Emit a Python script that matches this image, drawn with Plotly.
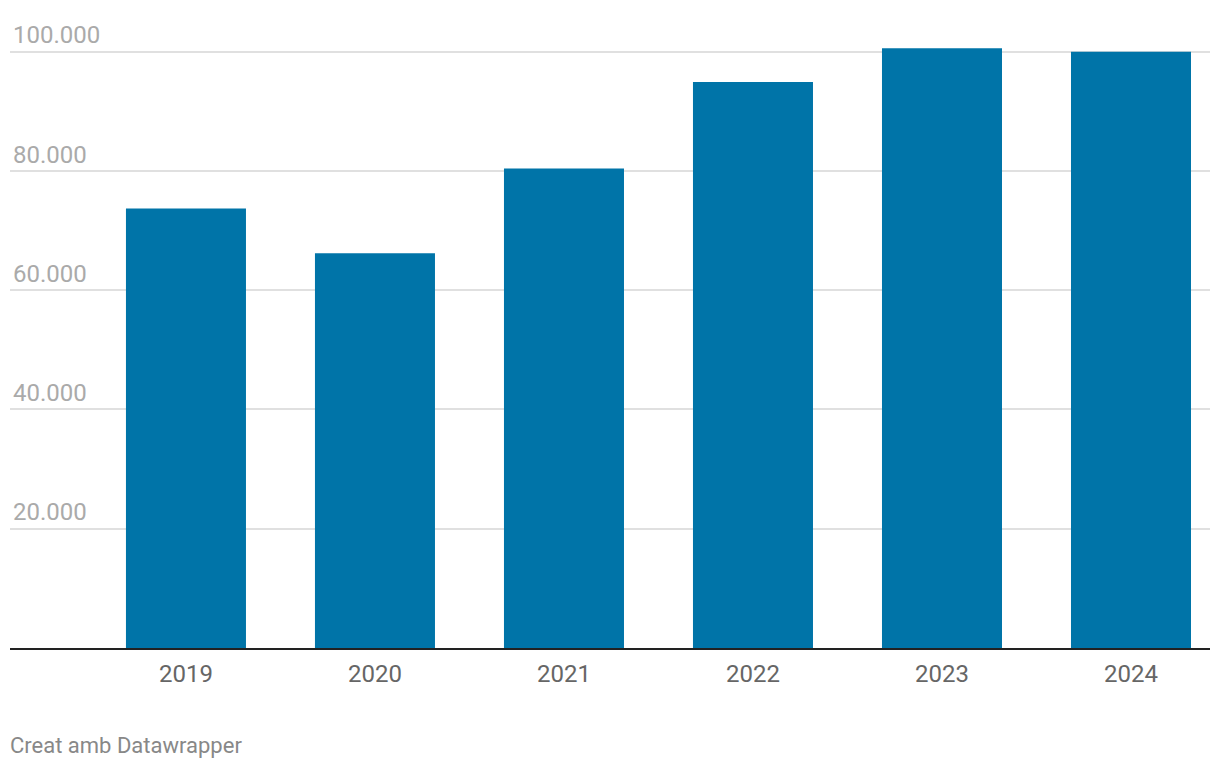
import plotly.graph_objects as go

years = ["2019", "2020", "2021", "2022", "2023", "2024"]
values = [73700, 66200, 80400, 94900, 100600, 100000]
y_ticks = [0, 20000, 40000, 60000, 80000, 100000]
y_tick_labels = ["", "20.000", "40.000", "60.000", "80.000", "100.000"]
footer = "Creat amb Datawrapper"

fig = go.Figure(go.Bar(x=years, y=values, marker_color="#0074a8", marker_line_width=0))

fig.update_layout(
    width=1220, height=770,
    margin=dict(l=10, r=10, t=4, b=122),
    paper_bgcolor="white", plot_bgcolor="white",
    bargap=0.365,
    font=dict(family="Roboto", size=22),
    showlegend=False,
)
fig.update_xaxes(
    type="category", range=[-0.931, 5.418],
    showgrid=False, showline=True, linecolor="#222", linewidth=2,
    ticks="", tickfont=dict(size=24, color="#666"), ticklabelstandoff=3,
)
fig.update_yaxes(
    range=[0, 108000], tickvals=y_ticks, ticktext=y_tick_labels,
    showgrid=True, gridcolor="#e0e0e0", gridwidth=1.5, zeroline=False,
    ticklabelposition="inside top", tickfont=dict(size=24, color="#aaa"),
    showline=False, ticks="",
)
fig.add_annotation(
    text=footer, xref="paper", yref="paper", x=0, y=-0.152, xshift=-2,
    xanchor="left", yanchor="middle", showarrow=False,
    font=dict(size=22, color="#888"),
)
fig.write_html("out.html")
